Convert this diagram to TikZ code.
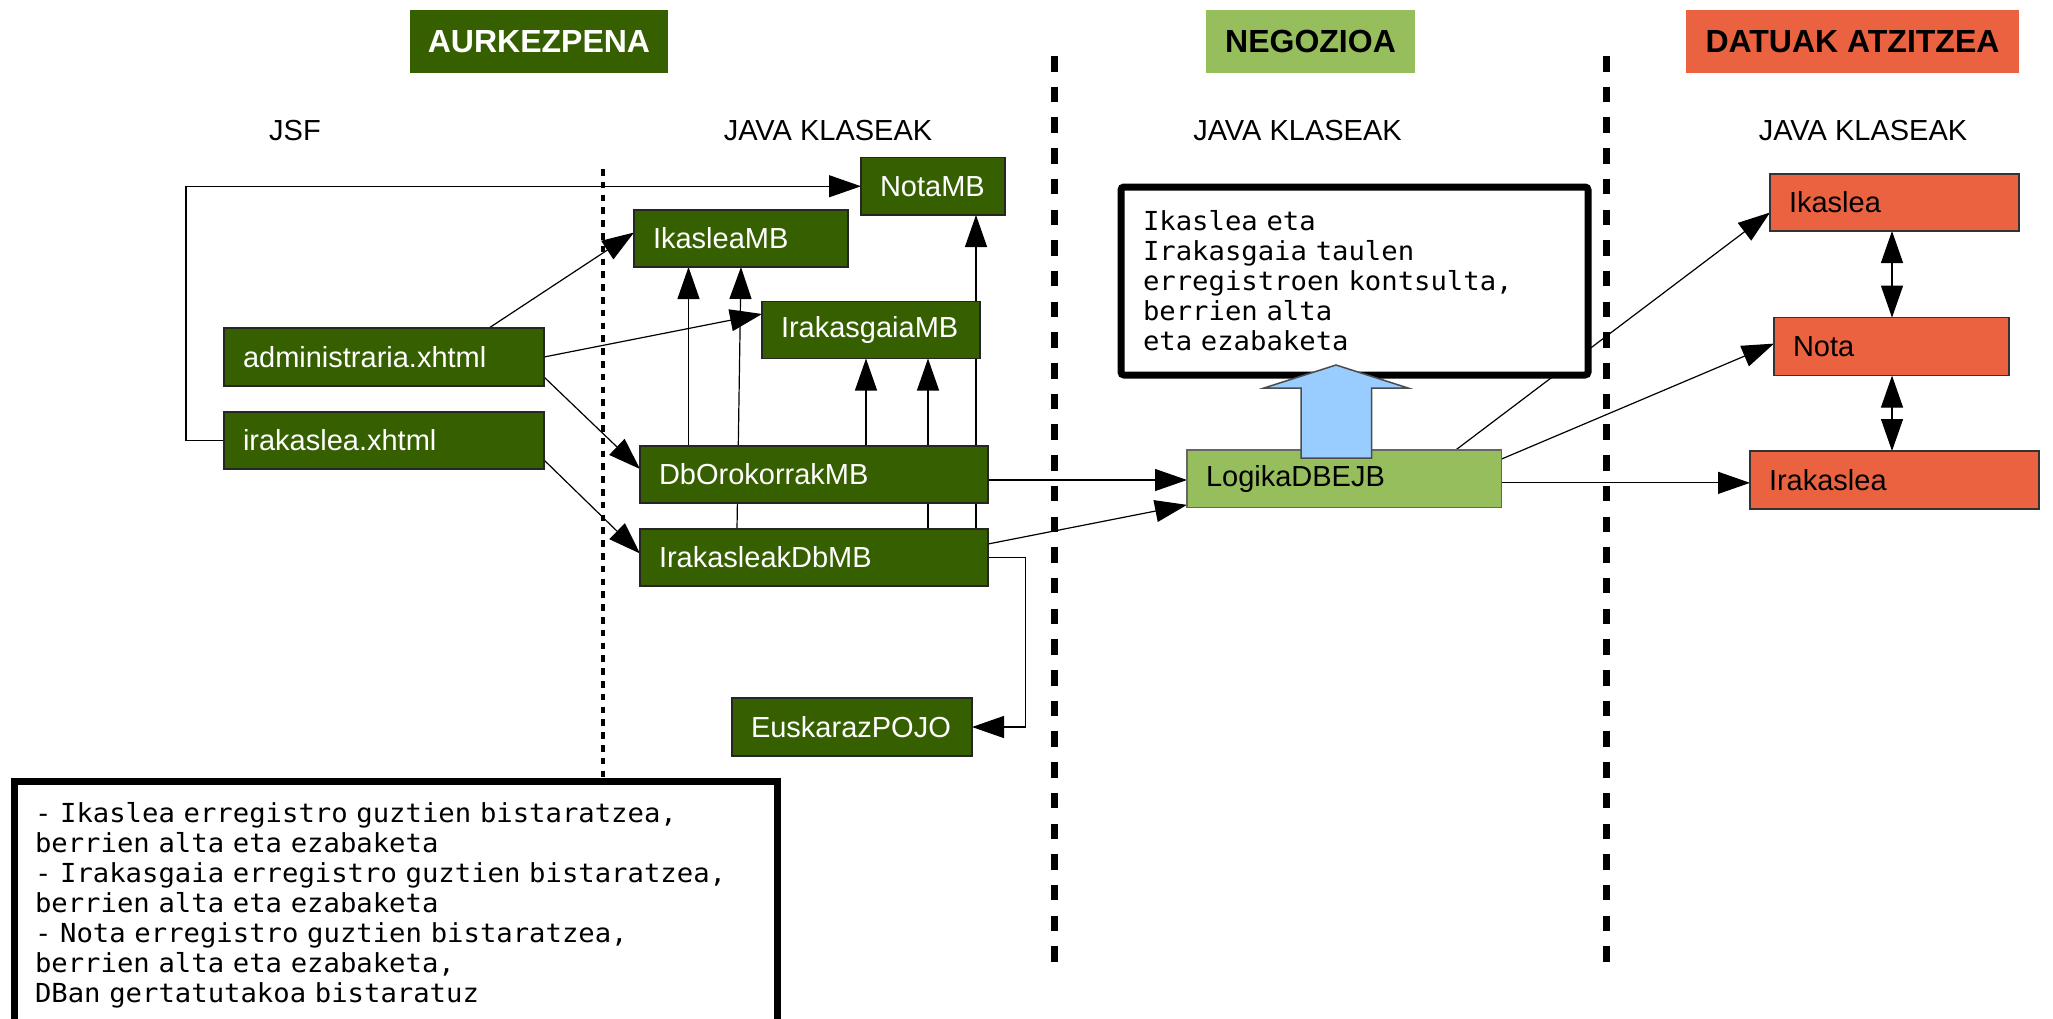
\documentclass[tikz,border=0pt]{standalone}
\usepackage{fontspec}
\setmainfont{Liberation Sans}
\newfontfamily\monofont[FakeStretch=1.04]{DejaVu Sans Mono}
\usetikzlibrary{arrows.meta,calc}
\pgfdeclarelayer{bg}
\pgfsetlayers{bg,main}
\definecolor{dkgreen}{RGB}{54,95,0}
\definecolor{ltgreen}{RGB}{151,190,93}
\definecolor{orangered}{RGB}{234,98,64}
\definecolor{lightblue}{RGB}{153,204,255}
\tikzset{
  basebox/.style={line width=1.2pt, inner xsep=19pt, inner ysep=0pt, outer sep=0pt,
    anchor=north west, align=left, font=\fontsize{29}{33}\selectfont},
  dg/.style={basebox, draw=black!85, fill=dkgreen, text=white},
  lg/.style={basebox, draw=black!60, fill=ltgreen, text=black},
  og/.style={basebox, draw=black!80, fill=orangered, text=black},
  hd/.style={anchor=north west, outer sep=0pt, inner sep=0pt, align=center,
    font=\fontsize{32}{36}\selectfont\bfseries},
  lbl/.style={anchor=base, inner sep=0pt, font=\fontsize{29}{33}\selectfont},
  monobox/.style={draw=black, line width=7pt, fill=white, outer sep=0pt,
    anchor=north west, align=left, font={\monofont\fontsize{26.2}{30}\selectfont}},
  conn/.style={line width=1.2pt, -{Triangle[length=32pt,width=22pt]}},
  biconn/.style={line width=1.2pt, {Triangle[length=32pt,width=22pt]}-{Triangle[length=32pt,width=22pt]}},
  thickdash/.style={line width=7pt, dash pattern=on 15.5pt off 15.2pt},
  thindash/.style={line width=3.3pt, dash pattern=on 6.5pt off 6.3pt},
}
\begin{document}
\begin{tikzpicture}[x=1pt,y=-1pt]
\useasboundingbox (0,0) rectangle (2053,1018);
\clip (0,0) rectangle (2053,1018);

% headers
\node[hd, fill=dkgreen, text=white, minimum width=258pt, minimum height=63pt] (hA) at (410,10) {AURKEZPENA};
\node[hd, fill=ltgreen, text=black, minimum width=209pt, minimum height=63pt] (hB) at (1206,10) {NEGOZIOA};
\node[hd, fill=orangered, text=black, minimum width=333pt, minimum height=63pt] (hC) at (1686,10) {DATUAK ATZITZEA};

% column labels
\node[lbl] (lJSF) at (295,140.5) {JSF};
\node[lbl] (lJ1) at (828,140.5) {JAVA KLASEAK};
\node[lbl] (lJ2) at (1297.5,140.5) {JAVA KLASEAK};
\node[lbl] (lJ3) at (1863,140.5) {JAVA KLASEAK};

% separators
\draw[thickdash] (1054,56) -- (1054,966);
\draw[thickdash] (1606,56) -- (1606,966);
\draw[thindash] (603,169) -- (603,779);

% presentation nodes
\node[dg, minimum width=144pt, minimum height=57.5pt, text width=106pt] (NotaMB) at (861,157.5) {NotaMB};
\node[dg, minimum width=214pt, minimum height=57pt, text width=176pt] (IkasleaMB) at (634,210) {IkasleaMB};
\node[dg, minimum width=218pt, minimum height=57pt, text width=180pt] (IrakasgaiaMB) at (762,301.5) {IrakasgaiaMB};
\node[dg, minimum width=320pt, minimum height=58pt, text width=282pt] (admin) at (224,328) {administraria.xhtml};
\node[dg, minimum width=320pt, minimum height=57pt, text width=282pt] (irak) at (224,412) {irakaslea.xhtml};
\node[dg, minimum width=348pt, minimum height=57pt, text width=310pt] (DbOro) at (640,446) {DbOrokorrakMB};
\node[dg, minimum width=348pt, minimum height=57pt, text width=310pt] (IrakDb) at (640,529) {IrakasleakDbMB};
\node[dg, minimum width=240pt, minimum height=58pt, text width=202pt] (Eusk) at (732,698) {EuskarazPOJO};

% business / data nodes
\node[lg, minimum width=314.6pt, minimum height=57.7pt, text width=276.6pt] (Logika) at (1187,450) {LogikaDBEJB};
\node[og, minimum width=249pt, minimum height=57pt, text width=211pt] (Ikaslea) at (1770,174) {Ikaslea};
\node[og, minimum width=235pt, minimum height=58pt, text width=197pt] (Nota) at (1774,317.6) {Nota};
\node[og, minimum width=289pt, minimum height=58pt, text width=251pt] (Irakaslea) at (1750,451) {Irakaslea};

% note boxes
\node[monobox, rounded corners=3pt, minimum height=188pt, text width=423pt, inner xsep=22pt, inner ysep=0pt] (note1) at (1121,187)
 {Ikaslea eta\\Irakasgaia taulen\\erregistroen kontsulta,\\berrien alta\\eta ezabaketa};
\node[monobox, text width=721pt, inner xsep=21pt, inner ysep=21pt] (note2) at (14,781)
 {- Ikaslea erregistro guztien bistaratzea,\\berrien alta eta ezabaketa\\- Irakasgaia erregistro guztien bistaratzea,\\berrien alta eta ezabaketa\\- Nota erregistro guztien bistaratzea,\\berrien alta eta ezabaketa,\\DBan gertatutakoa bistaratuz};

% connectors
\begin{pgfonlayer}{bg}
\draw[conn] (irak.west) -- ([xshift=-38pt]irak.west) |- (NotaMB.west);
\draw[conn] ([xshift=265pt]admin.north west) -- ([yshift=6pt]IkasleaMB.west);
\draw[conn] (admin.east) -- ([yshift=16pt]IrakasgaiaMB.west);
\draw[conn] ([yshift=-20pt]admin.east) -- ([yshift=5.5pt]DbOro.west);
\draw[conn] ([yshift=-19.5pt]irak.east) -- ([yshift=4pt]IrakDb.west);
\draw[conn] ([xshift=48.5pt]DbOro.north west) -- ([xshift=54.5pt]IkasleaMB.south west);
\draw[conn] ([xshift=97pt]IrakDb.north west) -- ([xshift=107pt]IkasleaMB.south west);
\draw[conn] ([xshift=226pt]DbOro.north west) -- ([xshift=104pt]IrakasgaiaMB.south west);
\draw[conn] ([xshift=288pt]IrakDb.north west) -- ([xshift=166pt]IrakasgaiaMB.south west);
\draw[conn] ([xshift=336pt]IrakDb.north west) -- ([xshift=115pt]NotaMB.south west);
\draw[conn] ([yshift=-5.5pt]DbOro.east) -- ([yshift=-5.5pt]DbOro.east -| Logika.west);
\draw[conn] ([yshift=13.5pt]IrakDb.east) -- ([yshift=-26pt]Logika.west);
\draw[conn] (IrakDb.east) -- ([xshift=37.5pt]IrakDb.east) |- (Eusk.east);
\draw[conn] ([xshift=268.7pt]Logika.north west) -- ([yshift=-10pt]Ikaslea.west);
\draw[conn] ([yshift=-9pt]Logika.north east) -- ([yshift=3pt]Nota.west);
\draw[conn] ([yshift=-4pt]Logika.east) -- ([yshift=-4pt]Logika.east -| Irakaslea.west);
\draw[biconn] ([xshift=122pt]Ikaslea.south west) -- ([xshift=118pt]Nota.north west);
\draw[biconn] ([xshift=118pt]Nota.south west) -- ([xshift=142pt]Irakaslea.north west);
\end{pgfonlayer}

% block arrow
\draw[fill=lightblue, draw=black!70, line width=1.5pt, line join=miter]
  (1301,458) -- (1301,388) -- (1264,388) -- (1336,365) -- (1408,388) -- (1371.5,388) -- (1371.5,458) -- cycle;
\end{tikzpicture}
\end{document}
